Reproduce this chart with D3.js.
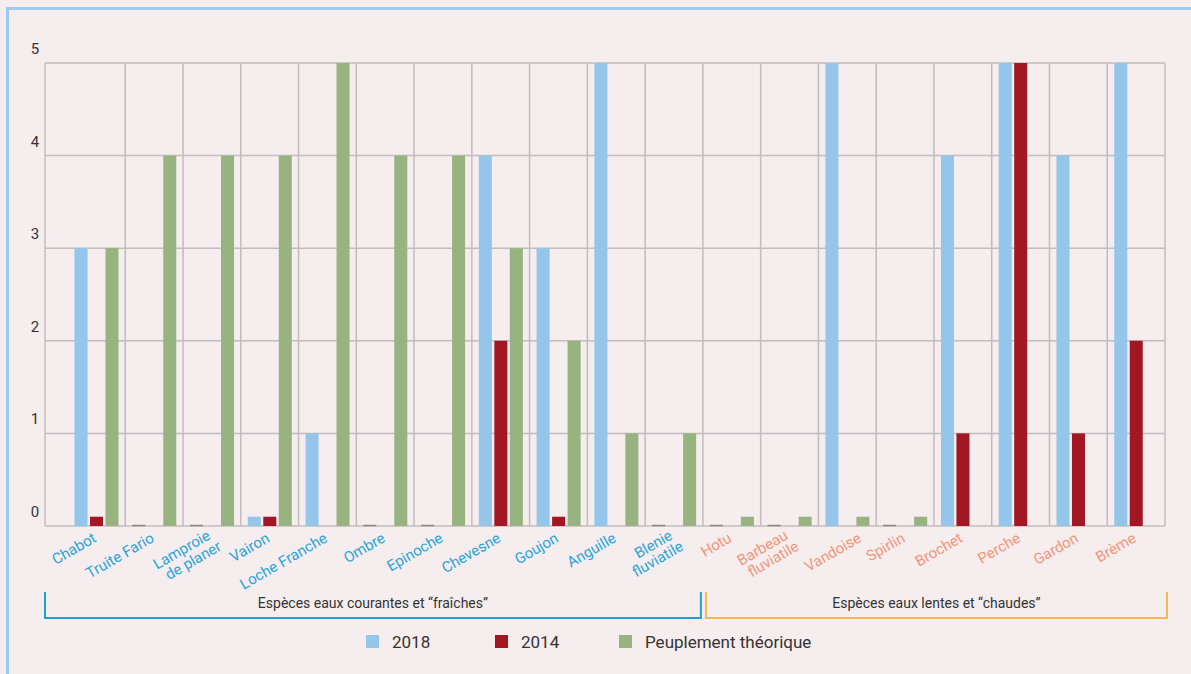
<!DOCTYPE html>
<html><head><meta charset="utf-8">
<script src="https://cdn.jsdelivr.net/npm/d3@7"></script>
<style>
html,body{margin:0;padding:0;background:#f5edee;}
svg{display:block;font-family:Roboto,"Open Sans",sans-serif;}
</style></head><body>
<svg id="c" width="1191" height="674"></svg>
<script>
const categories = [["Chabot"],["Truite Fario"],["Lamproie","de planer"],["Vairon"],["Loche Franche"],["Ombre"],["Epinoche"],["Chevesne"],["Goujon"],["Anguille"],["Blenie","fluviatile"],["Hotu"],["Barbeau","fluviatile"],["Vandoise"],["Spirlin"],["Brochet"],["Perche"],["Gardon"],["Brème"]];
const values2018 = [3,0,0,0.1,1,0,0,4,3,5,0,0,0,5,0,4,5,4,5];
const values2014 = [0.1,0,0,0.1,0,0,0,2,0.1,0,0,0,0,0,0,1,5,1,2];
const valuesTheo = [3,4,4,4,5,4,4,3,2,1,1,0.1,0.1,0.1,0.1,0,0,0,0];
const seriesNames = ["2018","2014","Peuplement théorique"];
const seriesColors = ["#93c6ea","#a31623","#97b380"];
const yTicks = [0,1,2,3,4,5];
const groups = [{label:"Espèces eaux courantes et “fraîches”", from:0, to:10, color:"#1fa0da"},
                {label:"Espèces eaux lentes et “chaudes”", from:11, to:18, color:"#f9b94a"}];

const svg = d3.select("#c");
svg.append("path").attr("d","M7.5,674 V8.5 H1191").attr("fill","none").attr("stroke","#9ccbee").attr("stroke-width",3);

const pLeft=45, pRight=1165, pTop=63, pBottom=526;
const x = d3.scaleBand().domain(d3.range(categories.length)).range([67.5,1165]).padding(0);
const y = d3.scaleLinear().domain([0,5]).range([pBottom,pTop]);
const x1 = d3.scaleBand().domain([0,1,2]).range([7,51]).paddingInner(0.16);

const grid = svg.append("g");
yTicks.forEach(t=>{
  grid.append("line").attr("x1",pLeft).attr("x2",pRight).attr("y1",y(t)).attr("y2",y(t))
    .attr("stroke","#c2bcbe").attr("stroke-width",1.5);
});
const vx=[pLeft].concat(d3.range(1,categories.length).map(i=>x(i)),[pRight]);
vx.forEach(v=>{
  grid.append("line").attr("x1",v).attr("x2",v).attr("y1",pTop).attr("y2",pBottom)
    .attr("stroke","#c2bcbe").attr("stroke-width",1.5);
});
yTicks.forEach(t=>{
  svg.append("text").attr("x",35).attr("y",y(t)-9).attr("text-anchor","middle")
    .attr("font-size",15).attr("fill","#333").text(t);
});

const series=[values2018,values2014,valuesTheo];
const bars=svg.append("g");
series.forEach((vals,s)=>{
  vals.forEach((v,i)=>{
    const bx=x(i)+x1(s);
    if(v>0){
      bars.append("rect").attr("x",bx).attr("y",y(v)).attr("width",x1.bandwidth()).attr("height",y(0)-y(v)).attr("fill",seriesColors[s]);
    } else if(s===0){
      bars.append("line").attr("x1",bx).attr("x2",bx+x1.bandwidth()).attr("y1",y(0)-0.5).attr("y2",y(0)-0.5).attr("stroke","#8a8486").attr("stroke-width",1.5);
    }
  });
});

categories.forEach((c,i)=>{
  const shift = c[0]==="Vandoise" ? 14 : 0;
  const cx=x(i)+x.bandwidth()/2+shift;
  const col = i<=10 ? "#29a4dc" : "#f4957a";
  const n=c.length;
  const g=svg.append("g").attr("transform",`translate(${cx+1},541) rotate(-30)`);
  c.forEach((line,k)=>{
    g.append("text").attr("x",0).attr("y",(k-(n-1))*15+ (n>1?12:0)).attr("text-anchor","end")
     .attr("font-size",15).attr("fill",col).attr("dx",n>1&&k==1?4:0).text(line);
  });
});

groups.forEach((gr,gi)=>{
  const x0 = gi===0 ? pLeft : x(gr.from)+3;
  const xe = gi===0 ? x(gr.to+1)-2 : pRight+2;
  svg.append("path").attr("d",`M${x0},592 V618 H${xe} V592`).attr("fill","none").attr("stroke",gr.color).attr("stroke-width",2);
  svg.append("text").attr("x",(x0+xe)/2).attr("y",608).attr("text-anchor","middle").attr("font-size",14).attr("fill","#333").text(gr.label);
});

const legX=[366,495,619];
seriesNames.forEach((n,i)=>{
  svg.append("rect").attr("x",legX[i]).attr("y",635).attr("width",13).attr("height",13).attr("fill",seriesColors[i]);
  svg.append("text").attr("x",legX[i]+26).attr("y",648).attr("font-size",17).attr("fill","#333").text(n);
});
</script></body></html>
